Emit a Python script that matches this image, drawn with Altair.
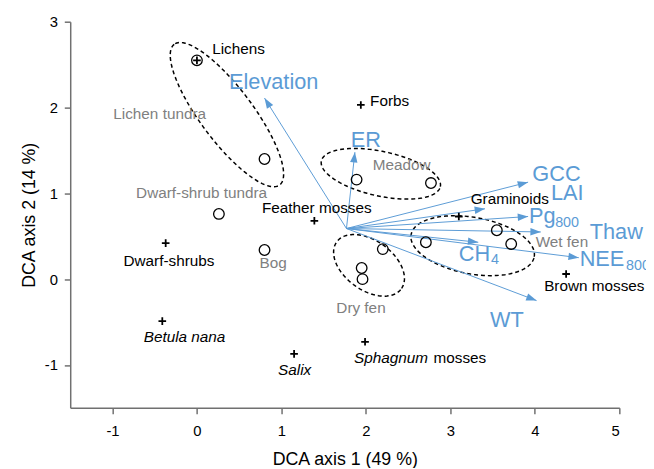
import numpy as np
import pandas as pd
import altair as alt

# ---------------- data ----------------
site_x = [0.00, 0.80, 0.26, 0.80, 1.89, 2.77, 2.20, 1.95, 1.96, 2.71, 3.55, 3.72]
site_y = [2.55, 1.40, 0.76, 0.34, 1.16, 1.12, 0.35, 0.13, 0.00, 0.43, 0.57, 0.41]

species = ["Lichens", "Forbs", "Feather mosses", "Graminoids", "Brown mosses",
           "Dwarf-shrubs", "Betula nana", "Salix", "Sphagnum mosses"]
species_x = [0.00, 1.94, 1.39, 3.10, 4.37, -0.37, -0.41, 1.15, 1.99]
species_y = [2.55, 2.03, 0.68, 0.73, 0.06, 0.42, -0.49, -0.87, -0.73]

sp_lab_text = ["Lichens", "Forbs", "Feather mosses", "Graminoids", "Brown mosses",
               "Dwarf-shrubs", "mosses"]
sp_lab_x = [0.18, 2.05, 0.77, 3.24, 4.11, -0.87, 2.80]
sp_lab_y = [2.68, 2.07, 0.83, 0.93, -0.08, 0.21, -0.92]

sp_ital_text = ["Betula nana", "Salix", "Sphagnum"]
sp_ital_x = [-0.63, 0.96, 1.86]
sp_ital_y = [-0.68, -1.06, -0.92]

arrow_origin = (1.77, 0.59)
arrows = ["Elevation", "ER", "GCC", "LAI", "Pg800", "Thaw", "CH4", "NEE800", "WT"]
arrow_x = [0.80, 1.87, 3.92, 3.41, 3.92, 4.07, 3.33, 4.52, 4.02]
arrow_y = [2.11, 1.48, 1.13, 0.82, 0.73, 0.55, 0.43, 0.25, -0.25]

arr_lab_text = ["Elevation", "ER", "GCC", "LAI", "Pg", "Thaw", "CH", "NEE", "WT"]
arr_lab_x = [0.38, 1.82, 3.97, 4.19, 3.93, 4.65, 3.10, 4.53, 3.47]
arr_lab_y = [2.30, 1.62, 1.22, 1.00, 0.73, 0.55, 0.29, 0.23, -0.48]

sub_text = ["800", "4", "800"]
sub_x = [4.24, 3.48, 5.08]
sub_y = [0.65, 0.22, 0.15]

groups = ["Lichen tundra", "Dwarf-shrub tundra", "Bog", "Meadow", "Dry fen", "Wet fen"]
group_x = [-0.99, -0.72, 0.74, 2.08, 1.65, 4.01]
group_y = [1.92, 1.00, 0.19, 1.33, -0.34, 0.43]

ell_names = ["Lichen tundra", "Meadow", "Dry fen", "Wet fen"]
ell_cx = [0.355, 2.177, 2.037, 3.264]
ell_cy = [1.917, 1.228, 0.161, 0.390]
ell_a = [1.03, 0.72, 0.47, 0.74]
ell_b = [0.31, 0.26, 0.29, 0.33]
ell_angle = [127.3, -12.0, -35.0, -10.0]

# ---------------- layout ----------------
W, H = 556, 391
XD, YD = [-1.5, 5], [-1.5, 3]
BLUE = "#5b9bd5"
GREY = "#808080"
FONT = "Liberation Sans"

sx = W / (XD[1] - XD[0])
sy = H / (YD[1] - YD[0])

# ellipse outlines
rows = []
t = np.linspace(0, 2 * np.pi, 121)
for n, cx, cy, a, b, ang in zip(ell_names, ell_cx, ell_cy, ell_a, ell_b, ell_angle):
    th = np.deg2rad(ang)
    ex = cx + a * np.cos(t) * np.cos(th) - b * np.sin(t) * np.sin(th)
    ey = cy + a * np.cos(t) * np.sin(th) + b * np.sin(t) * np.cos(th)
    for i, (xx, yy) in enumerate(zip(ex, ey)):
        rows.append({"g": n, "i": i, "x": xx, "y": yy})
ell_df = pd.DataFrame(rows)

arr_df = pd.DataFrame({"name": arrows, "x": arrow_origin[0], "y": arrow_origin[1],
                       "x2": arrow_x, "y2": arrow_y})
arr_df["ang"] = [
    (np.degrees(np.arctan2((x2 - arrow_origin[0]) * sx, (y2 - arrow_origin[1]) * sy)) + 360) % 360
    for x2, y2 in zip(arrow_x, arrow_y)
]

site_df = pd.DataFrame({"x": site_x, "y": site_y})
sp_df = pd.DataFrame({"name": species, "x": species_x, "y": species_y})
splab_df = pd.DataFrame({"t": sp_lab_text, "x": sp_lab_x, "y": sp_lab_y})
spit_df = pd.DataFrame({"t": sp_ital_text, "x": sp_ital_x, "y": sp_ital_y})
arrlab_df = pd.DataFrame({"t": arr_lab_text, "x": arr_lab_x, "y": arr_lab_y})
sub_df = pd.DataFrame({"t": sub_text, "x": sub_x, "y": sub_y})
grp_df = pd.DataFrame({"t": groups, "x": group_x, "y": group_y})

xs = alt.Scale(domain=XD, nice=False, zero=False)
ys = alt.Scale(domain=YD, nice=False, zero=False)
X = alt.X("x:Q", scale=xs, title="DCA axis 1 (49 %)",
          axis=alt.Axis(values=[-1, 0, 1, 2, 3, 4, 5], labelExpr="'' + datum.value",
                        grid=False, labelPadding=10, titlePadding=12))
Y = alt.Y("y:Q", scale=ys, title="DCA axis 2 (14 %)",
          axis=alt.Axis(values=[-1, 0, 1, 2, 3], labelExpr="'' + datum.value",
                        grid=False, labelPadding=7, titlePadding=6))
Xp = alt.X("x:Q", scale=xs)
Yp = alt.Y("y:Q", scale=ys)

ell = alt.Chart(ell_df).mark_line(color="black", strokeDash=[4, 3], strokeWidth=1.5).encode(
    x=X, y=Y, detail="g:N", order="i:Q")

rules = alt.Chart(arr_df).mark_rule(color=BLUE, strokeWidth=1).encode(
    x=Xp, y=Yp, x2="x2:Q", y2="y2:Q")

heads = alt.Chart(arr_df).mark_point(
    shape="M0,0L-0.75,2.1L0.75,2.1Z", filled=True, color=BLUE, opacity=1, size=100
).encode(x=alt.X("x2:Q", scale=xs), y=alt.Y("y2:Q", scale=ys), angle=alt.Angle("ang:Q", scale=None))

sites = alt.Chart(site_df).mark_point(shape="circle", filled=False, color="black",
                                      strokeWidth=1.3, size=115, opacity=1).encode(x=Xp, y=Yp)

crosses = alt.Chart(sp_df).mark_point(shape="M-1,0L1,0M0,-1L0,1", filled=False, color="black",
                                      strokeWidth=1.8, size=60, opacity=1).encode(x=Xp, y=Yp)

def txt(df, size, color, style="normal"):
    return alt.Chart(df).mark_text(align="left", baseline="middle", font=FONT, fontSize=size,
                                   color=color, fontStyle=style).encode(x=Xp, y=Yp, text="t:N")

chart = alt.layer(
    ell, rules, heads, sites, crosses,
    txt(grp_df, 15.5, GREY),
    txt(splab_df, 15.5, "black"),
    txt(spit_df, 15.5, "black", "italic"),
    txt(arrlab_df, 22, BLUE),
    txt(sub_df, 14.5, BLUE),
).properties(
    width=W, height=H,
    autosize=alt.AutoSizeParams(type="none"),
    padding={"left": 63, "top": 11, "right": 27, "bottom": 58},
).configure_view(stroke=None).configure_axis(
    labelFont=FONT, titleFont=FONT, labelFontSize=15, titleFontSize=18,
    titleFontWeight="normal", labelColor="black", titleColor="black",
    domainColor="#707070", tickColor="#707070", tickSize=6, domainWidth=1.5, tickWidth=1.5,
)

chart.save("out.html", embed_options={"renderer": "svg", "actions": False})
